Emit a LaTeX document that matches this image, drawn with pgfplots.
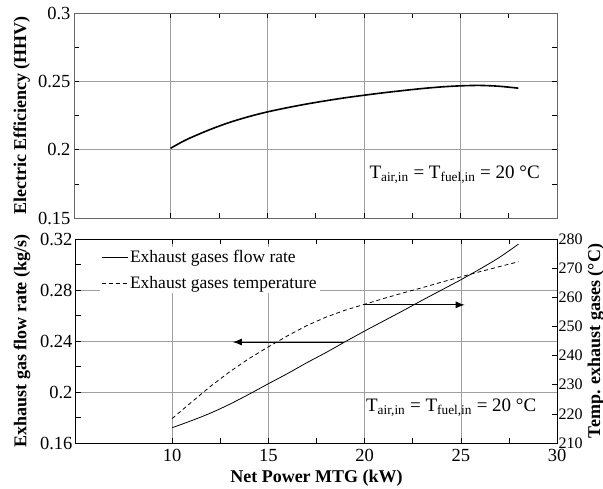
\documentclass[border=0pt]{standalone}
\usepackage{fontspec}
\setmainfont{Liberation Serif}
\usepackage{pgfplots}
\pgfplotsset{compat=1.18}
\usetikzlibrary{arrows.meta}

\pgfplotsset{
  mtg/.style={
    scale only axis, xmin=5, xmax=30, xtick={10,15,20,25,30},
    minor x tick num=1, tick align=inside,
    major grid style={gray!75, line width=0.6pt},
    tick style={black, line width=0.5pt},
    major tick length=5pt, minor tick length=5pt,
    tick label style={font=\fontsize{18.5}{20}\selectfont},
    xticklabel style={yshift=-3pt},
    label style={font=\bfseries\fontsize{18}{20}\selectfont},
    /pgf/number format/assume math mode=true,
    yticklabel style={/pgf/number format/fixed, /pgf/number format/precision=2},
  }
}

\begin{document}
\begin{tikzpicture}
\useasboundingbox (0,0) rectangle (603pt,488pt);

% top: electric efficiency
\begin{axis}[mtg,
  at={(74pt,270pt)}, anchor=south west, width=483pt, height=205pt,
  axis line style={gray!80!black, line width=0.7pt},
  grid=major, xticklabels={},
  ymin=0.15, ymax=0.3, ytick={0.15,0.2,0.25,0.3}, minor y tick num=1,
  ylabel={Electric Efficiency (HHV)},
  ylabel style={at={(axis description cs:-0.108,0.5)}, anchor=center},
]
\addplot[black, line width=1.6pt, smooth] coordinates {
 (10,0.2010) (10.5,0.2050) (11,0.2085) (12,0.2145) (13,0.2197) (14,0.2240)
 (15,0.2276) (16,0.2306) (17,0.2333) (18,0.2357) (19,0.2379) (20,0.2398)
 (21,0.2416) (22,0.2432) (23,0.2447) (24,0.2459) (25,0.2467) (26,0.2470)
 (27,0.2464) (28,0.2450)
};
\node[font=\fontsize{19}{21}\selectfont] at (axis cs:24.7,0.1815)
  {T\textsubscript{air,in} = T\textsubscript{fuel,in} = 20 °C};
\end{axis}

% bottom: exhaust flow rate (left axis)
\begin{axis}[mtg,
  at={(76pt,45pt)}, anchor=south west, width=481pt, height=204pt,
  axis line style={black, line width=1pt},
  grid=major, ytick pos=left,
  ymin=0.16, ymax=0.32, ytick={0.16,0.2,0.24,0.28,0.32}, minor y tick num=1,
  ylabel={Exhaust gas flow rate (kg/s)},
  ylabel style={at={(axis description cs:-0.112,0.5)}, anchor=center},
  xlabel={Net Power MTG (kW)},
  xlabel style={at={(axis description cs:0.5,-0.172)}, anchor=center},
  legend style={draw=none, fill=white, at={(0.05,0.96)}, anchor=north west,
    font=\fontsize{17.5}{19}\selectfont, inner sep=1pt, row sep=8pt},
  legend cell align=left,
  legend image code/.code={\draw[#1] (0pt,0pt) -- (26pt,0pt);},
]
\addplot[black, line width=0.8pt, smooth] coordinates {
 (10,0.1720) (11,0.1775) (12,0.1835) (13,0.1905) (14,0.1983) (15,0.2065)
 (16,0.2145) (17,0.2230) (18,0.2310) (19,0.2395) (20,0.2478) (21,0.2558)
 (22,0.2638) (23,0.2720) (24,0.2800) (25,0.2880) (26,0.2965) (27,0.3055)
 (28,0.3160)
};
\addlegendentry{Exhaust gases flow rate}
\addlegendimage{black, line width=0.8pt, dash pattern=on 4pt off 3pt}
\addlegendentry{Exhaust gases temperature}
\draw[black, line width=0.9pt, -{Latex[length=9pt,width=7pt]}]
  (axis cs:18.9,0.2392) -- (axis cs:13.15,0.2392);
\node[font=\fontsize{19}{21}\selectfont] at (axis cs:24.5,0.1875)
  {T\textsubscript{air,in} = T\textsubscript{fuel,in} = 20 °C};
\end{axis}

% bottom: exhaust temperature (right axis)
\begin{axis}[mtg,
  at={(76pt,45pt)}, anchor=south west, width=481pt, height=204pt,
  axis x line=none, axis y line*=right,
  axis line style={black, line width=1pt},
  ymin=210, ymax=280, ytick={210,220,230,240,250,260,270,280},
  yticklabel style={font=\fontsize{16}{18}\selectfont, xshift=-2pt},
  ylabel={Temp. exhaust gases (°C)},
  ylabel style={at={(axis description cs:1.081,0.5)}, anchor=center},
]
\addplot[black, line width=0.8pt, dash pattern=on 4pt off 3pt] coordinates {
 (10,218.4) (11,224.0) (12,229.5) (13,234.5) (14,239.0) (15,243.0)
 (16,246.8) (17,250.3) (18,253.2) (19,255.6) (20,257.6) (21,259.6)
 (22,261.5) (23,263.3) (24,265.2) (25,267.0) (26,268.8) (27,270.5)
 (28,272.2)
};
\draw[black, line width=0.9pt, -{Latex[length=9pt,width=7pt]}]
  (axis cs:19.9,257.4) -- (axis cs:25.2,257.4);
\end{axis}
\end{tikzpicture}
\end{document}
